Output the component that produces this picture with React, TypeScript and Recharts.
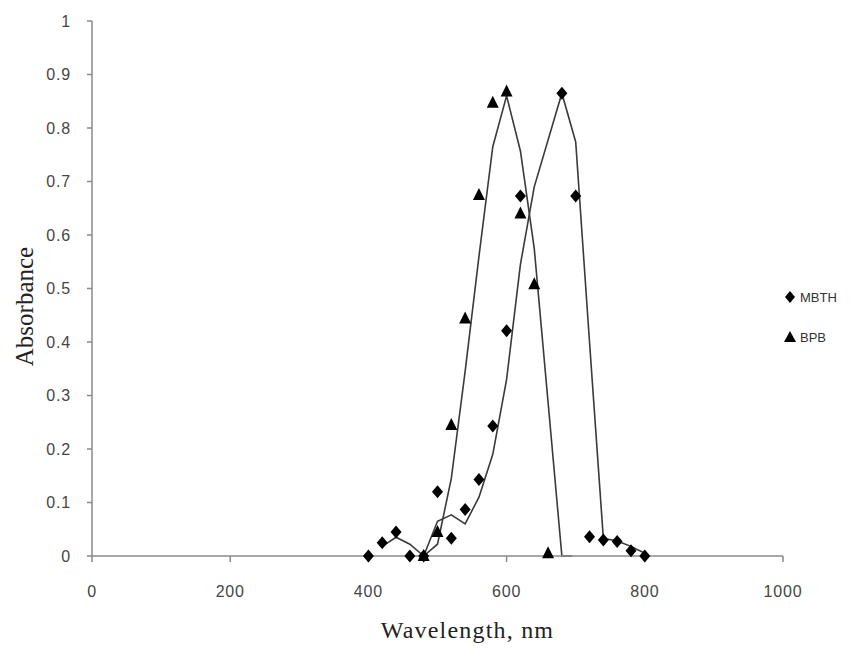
import React from 'react';
import { ComposedChart, Scatter, Line, XAxis, YAxis, Label } from 'recharts';

// measured points
const mbthWavelength = [400, 420, 440, 460, 480, 500, 520, 540, 560, 580, 600, 620, 680, 700, 720, 740, 760, 780, 800];
const mbthAbsorbance = [0, 0.025, 0.045, 0, 0, 0.12, 0.033, 0.087, 0.143, 0.243, 0.421, 0.673, 0.865, 0.673, 0.036, 0.03, 0.027, 0.01, 0];

const bpbWavelength = [480, 500, 520, 540, 560, 580, 600, 620, 640, 660];
const bpbAbsorbance = [0, 0.045, 0.245, 0.444, 0.675, 0.847, 0.868, 0.64, 0.508, 0.005];

// trend lines
const mbthTrendWavelength = [420, 440, 460, 480, 500, 520, 540, 560, 580, 600, 620, 640, 680, 700, 720, 740, 760, 780, 800];
const mbthTrendAbsorbance = [0.018, 0.035, 0.022, 0, 0.065, 0.077, 0.06, 0.11, 0.19, 0.33, 0.545, 0.69, 0.865, 0.774, 0.4, 0.033, 0.028, 0.018, 0.005];

const bpbTrendWavelength = [480, 500, 520, 540, 560, 580, 600, 620, 640, 680, 695];
const bpbTrendAbsorbance = [0, 0.022, 0.145, 0.345, 0.56, 0.765, 0.86, 0.757, 0.575, 0, 0];

const xTicks = [0, 200, 400, 600, 800, 1000];
const yTicks = [0, 0.1, 0.2, 0.3, 0.4, 0.5, 0.6, 0.7, 0.8, 0.9, 1];

const toPoints = (xs: number[], ys: number[]) => xs.map((x, i) => ({ x, y: ys[i] }));

const mbthPoints = toPoints(mbthWavelength, mbthAbsorbance);
const bpbPoints = toPoints(bpbWavelength, bpbAbsorbance);
const mbthTrend = toPoints(mbthTrendWavelength, mbthTrendAbsorbance);
const bpbTrend = toPoints(bpbTrendWavelength, bpbTrendAbsorbance);

const axisColor = '#8a8a8a';
const tickStyle = { fontFamily: 'Liberation Sans, Arial, sans-serif', fontSize: 16, letterSpacing: 0.8, fill: '#454545' };
const titleFont = 'Liberation Serif, Times New Roman, serif';

const Diamond = (props: any) => {
  const { cx, cy } = props;
  if (cx == null || cy == null) return null;
  return <polygon points={`${cx},${cy - 6.5} ${cx + 5.5},${cy} ${cx},${cy + 6.5} ${cx - 5.5},${cy}`} fill="#000" />;
};

const Triangle = (props: any) => {
  const { cx, cy } = props;
  if (cx == null || cy == null) return null;
  return <polygon points={`${cx},${cy - 7} ${cx + 6},${cy + 5} ${cx - 6},${cy + 5}`} fill="#000" />;
};

const YTitle = (props: any) => {
  const { viewBox } = props;
  const x = viewBox.x + 16;
  const y = viewBox.y + viewBox.height / 2 + 18;
  return (
    <text x={x} y={y} transform={`rotate(-90, ${x}, ${y})`} textAnchor="middle" dominantBaseline="central"
      fontFamily={titleFont} fontSize={25} fill="#222">
      Absorbance
    </text>
  );
};

const XTitle = (props: any) => {
  const { viewBox } = props;
  const x = viewBox.x + viewBox.width / 2 + 30;
  const y = viewBox.y + 82;
  return (
    <text x={x} y={y} textAnchor="middle" fontFamily={titleFont} fontSize={24} letterSpacing={1.2} fill="#222">
      Wavelength, nm
    </text>
  );
};

const legendItem = { display: 'flex', alignItems: 'center', height: 20 } as const;

export default function App() {
  return (
    <div style={{ position: 'relative', width: 840, height: 640, background: '#fff' }}>
      <ComposedChart width={840} height={640} margin={{ top: 13, right: 65, bottom: 0, left: 0 }}>
        <XAxis
          type="number"
          dataKey="x"
          domain={[0, 1000]}
          ticks={xTicks}
          height={92}
          tickSize={6}
          tickMargin={24}
          stroke={axisColor}
          strokeWidth={1.5}
          tick={tickStyle}
          allowDuplicatedCategory={false}
        >
          <Label content={XTitle} />
        </XAxis>
        <YAxis
          type="number"
          dataKey="y"
          domain={[0, 1]}
          ticks={yTicks}
          width={84}
          tickSize={5}
          tickMargin={16}
          stroke={axisColor}
          strokeWidth={1.5}
          tick={tickStyle}
        >
          <Label content={YTitle} />
        </YAxis>
        <Line data={mbthTrend} dataKey="y" type="linear" stroke="#3a3a3a" strokeWidth={1.6} dot={false} isAnimationActive={false} />
        <Line data={bpbTrend} dataKey="y" type="linear" stroke="#3a3a3a" strokeWidth={1.6} dot={false} isAnimationActive={false} />
        <Scatter name="MBTH" data={mbthPoints} dataKey="y" shape={Diamond} isAnimationActive={false} />
        <Scatter name="BPB" data={bpbPoints} dataKey="y" shape={Triangle} isAnimationActive={false} />
      </ComposedChart>
      <div style={{ position: 'absolute', left: 776, top: 279, fontFamily: 'Liberation Sans, Arial, sans-serif', fontSize: 13, color: '#333' }}>
        <div style={legendItem}>
          <svg width={14} height={14}><polygon points="6,1 11,7 6,13 1,7" fill="#000" /></svg>
          <span style={{ marginLeft: 2 }}>MBTH</span>
        </div>
        <div style={{ ...legendItem, marginTop: 20 }}>
          <svg width={14} height={14}><polygon points="6,1 12,12 0,12" fill="#000" /></svg>
          <span style={{ marginLeft: 2 }}>BPB</span>
        </div>
      </div>
    </div>
  );
}
